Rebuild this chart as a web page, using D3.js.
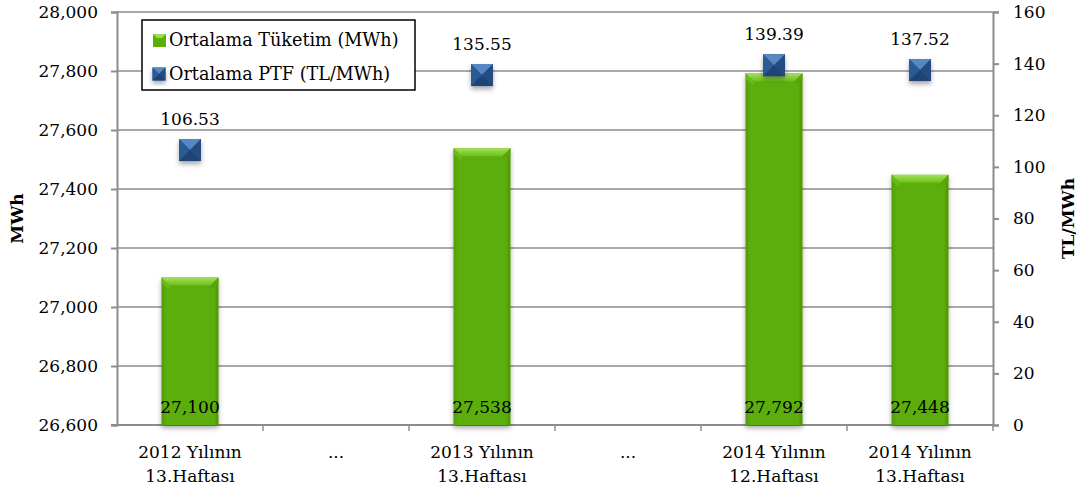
<!DOCTYPE html>
<html>
<head>
<meta charset="utf-8">
<script src="https://cdn.jsdelivr.net/npm/d3@7"></script>
<style>
  body { margin: 0; background: #fff; }
  text { font-family: "DejaVu Serif", serif; fill: #000; }
</style>
</head>
<body>
<div id="chart"></div>
<script>
// data
const categories = [
  ["2012 Yılının", "13.Haftası"],
  ["..."],
  ["2013 Yılının", "13.Haftası"],
  ["..."],
  ["2014 Yılının", "12.Haftası"],
  ["2014 Yılının", "13.Haftası"]
];
const consumption = [27100, null, 27538, null, 27792, 27448];
const ptf = [106.53, null, 135.55, null, 139.39, 137.52];
const leftTicks = [26600, 26800, 27000, 27200, 27400, 27600, 27800, 28000];
const rightTicks = [0, 20, 40, 60, 80, 100, 120, 140, 160];
const seriesNames = ["Ortalama Tüketim (MWh)", "Ortalama PTF (TL/MWh)"];

let width = 1079, height = 496;
let margin = {top: 12, right: 86, bottom: 71, left: 117};

let svg = d3.select("#chart").append("svg")
    .attr("width", width)
    .attr("height", height);

let defs = svg.append("defs");

let barGrad = defs.append("linearGradient").attr("id", "barGrad")
    .attr("x1", 0).attr("x2", 1).attr("y1", 0).attr("y2", 0);
barGrad.append("stop").attr("offset", "0%").attr("stop-color", "#4f9a06");
barGrad.append("stop").attr("offset", "8%").attr("stop-color", "#5cae08");
barGrad.append("stop").attr("offset", "92%").attr("stop-color", "#5cae08");
barGrad.append("stop").attr("offset", "100%").attr("stop-color", "#4c9405");

let bevelGrad = defs.append("linearGradient").attr("id", "bevelGrad")
    .attr("x1", 0).attr("x2", 0).attr("y1", 0).attr("y2", 1);
bevelGrad.append("stop").attr("offset", "0%").attr("stop-color", "#a4e05a");
bevelGrad.append("stop").attr("offset", "100%").attr("stop-color", "#6cbf1c");

let shadow = defs.append("filter").attr("id", "shadow")
    .attr("x", "-30%").attr("y", "-30%").attr("width", "160%").attr("height", "170%");
shadow.append("feDropShadow").attr("dx", 0).attr("dy", 3).attr("stdDeviation", 2.5)
    .attr("flood-color", "#000").attr("flood-opacity", 0.35);

let x = d3.scaleBand()
    .domain(d3.range(categories.length))
    .range([margin.left, width - margin.right]);

let yLeft = d3.scaleLinear().domain([26600, 28000]).range([height - margin.bottom, margin.top]);
let yRight = d3.scaleLinear().domain([0, 160]).range([height - margin.bottom, margin.top]);

let x0 = margin.left, x1 = width - margin.right, yBase = height - margin.bottom;

// grid lines
svg.append("g").selectAll("line")
    .data(leftTicks)
    .enter().append("line")
    .attr("x1", x0).attr("x2", x1)
    .attr("y1", d => yLeft(d)).attr("y2", d => yLeft(d))
    .attr("stroke", "#8c8c8c").attr("stroke-width", 1.5);

// left axis
let leftAxis = svg.append("g")
    .attr("transform", "translate(" + x0 + ",0)")
    .call(d3.axisLeft(yLeft).tickValues(leftTicks).tickFormat(d3.format(",")).tickSizeOuter(0).tickSize(6).tickPadding(13));
leftAxis.select(".domain").attr("stroke", "#8c8c8c").attr("stroke-width", 2);
leftAxis.selectAll(".tick line").attr("stroke", "#8c8c8c").attr("stroke-width", 2);
leftAxis.selectAll("text").style("font-family", "DejaVu Serif").style("font-size", "17px").attr("fill", "#000");

// right axis
let rightAxis = svg.append("g")
    .attr("transform", "translate(" + x1 + ",0)")
    .call(d3.axisRight(yRight).tickValues(rightTicks).tickSizeOuter(0).tickSize(6).tickPadding(14));
rightAxis.select(".domain").attr("stroke", "#8c8c8c").attr("stroke-width", 2);
rightAxis.selectAll(".tick line").attr("stroke", "#8c8c8c").attr("stroke-width", 2);
rightAxis.selectAll("text").style("font-family", "DejaVu Serif").style("font-size", "17px").attr("fill", "#000");

// bottom axis
svg.append("line")
    .attr("x1", x0 - 6).attr("x2", x1)
    .attr("y1", yBase).attr("y2", yBase)
    .attr("stroke", "#8c8c8c").attr("stroke-width", 2);
svg.append("g").selectAll("line")
    .data(d3.range(1, categories.length + 1))
    .enter().append("line")
    .attr("x1", i => i < categories.length ? x(i) : x1)
    .attr("x2", i => i < categories.length ? x(i) : x1)
    .attr("y1", yBase).attr("y2", yBase + 6)
    .attr("stroke", "#8c8c8c").attr("stroke-width", 1.5);

let catLabels = svg.append("g").selectAll("text")
    .data(categories)
    .enter().append("text")
    .attr("text-anchor", "middle")
    .style("font-size", "17px")
    .attr("transform", (d, i) => "translate(" + (x(i) + x.bandwidth() / 2) + "," + (yBase + 33) + ")");
catLabels.selectAll("tspan")
    .data(d => d)
    .enter().append("tspan")
    .attr("x", 0)
    .attr("dy", (d, j) => j === 0 ? 0 : 24)
    .text(d => d);

// bars
let barW = x.bandwidth() * 0.39;
let barData = consumption.map((v, i) => ({i: i, v: v})).filter(d => d.v != null);

let bars = svg.append("g").selectAll("g")
    .data(barData)
    .enter().append("g")
    .attr("transform", d => "translate(" + (x(d.i) + (x.bandwidth() - barW) / 2) + ",0)");

bars.append("rect")
    .attr("y", d => yLeft(d.v))
    .attr("width", barW)
    .attr("height", d => yBase - yLeft(d.v))
    .attr("fill", "url(#barGrad)")
    .attr("filter", "url(#shadow)");

// bevel on top edge
bars.append("path")
    .attr("d", d => {
        let t = yLeft(d.v), b = 8;
        return "M0," + t + "L" + barW + "," + t + "L" + (barW - b) + "," + (t + b) + "L" + b + "," + (t + b) + "Z";
    })
    .attr("fill", "url(#bevelGrad)");
bars.append("path")
    .attr("d", d => {
        let t = yLeft(d.v), b = 8;
        return "M0," + t + "L" + b + "," + (t + b) + "L" + b + "," + (t + b + 4) + "L0," + (t + 6) + "Z";
    })
    .attr("fill", "#68bb18");
bars.append("path")
    .attr("d", d => {
        let t = yLeft(d.v), b = 8;
        return "M" + barW + "," + t + "L" + (barW - b) + "," + (t + b) + "L" + (barW - b) + "," + (t + b + 4) + "L" + barW + "," + (t + 6) + "Z";
    })
    .attr("fill", "#58a60a");

bars.append("text")
    .attr("x", barW / 2)
    .attr("y", yBase - 12)
    .attr("text-anchor", "middle")
    .style("font-size", "17px")
    .text(d => d3.format(",")(d.v));

// PTF markers
let m = 22;
let ptfData = ptf.map((v, i) => ({i: i, v: v})).filter(d => d.v != null);

function marker(sel, s) {
    let h = s / 2;
    sel.append("rect").attr("x", -h).attr("y", -h).attr("width", s).attr("height", s)
        .attr("fill", "#28528c").attr("filter", "url(#shadow)");
    sel.append("path").attr("d", "M" + (-h) + "," + (-h) + "L" + h + "," + (-h) + "L0,0Z").attr("fill", "#5688c4");
    sel.append("path").attr("d", "M" + (-h) + "," + (-h) + "L0,0L" + (-h) + "," + h + "Z").attr("fill", "#2c5a96");
    sel.append("path").attr("d", "M" + h + "," + (-h) + "L0,0L" + h + "," + h + "Z").attr("fill", "#244c82");
    sel.append("path").attr("d", "M" + (-h) + "," + h + "L0,0L" + h + "," + h + "Z").attr("fill", "#1f4474");
}

let points = svg.append("g").selectAll("g")
    .data(ptfData)
    .enter().append("g")
    .attr("transform", d => "translate(" + (x(d.i) + x.bandwidth() / 2) + "," + yRight(d.v) + ")");
points.call(marker, m);
points.append("text")
    .attr("y", -25)
    .attr("text-anchor", "middle")
    .style("font-size", "17px")
    .text(d => d3.format(".2f")(d.v));

// axis titles
svg.append("text")
    .attr("transform", "translate(23," + (margin.top + (yBase - margin.top) / 2) + ")rotate(-90)")
    .attr("text-anchor", "middle")
    .style("font-size", "17px").style("font-weight", "bold")
    .text("MWh");
svg.append("text")
    .attr("transform", "translate(1074," + (margin.top + (yBase - margin.top) / 2) + ")rotate(-90)")
    .attr("text-anchor", "middle")
    .style("font-size", "17px").style("font-weight", "bold")
    .text("TL/MWh");

// legend
let legend = svg.append("g").attr("transform", "translate(142,20)");
legend.append("rect")
    .attr("width", 273).attr("height", 70)
    .attr("fill", "#fff").attr("stroke", "#000").attr("stroke-width", 1.5);

let lg = legend.selectAll("g")
    .data(seriesNames)
    .enter().append("g")
    .attr("transform", (d, i) => "translate(17," + (20 + i * 34) + ")");
lg.filter((d, i) => i === 0).each(function() {
    let g = d3.select(this);
    g.append("rect").attr("x", -6).attr("y", -6).attr("width", 13).attr("height", 13).attr("fill", "#5cae08");
    g.append("path").attr("d", "M-6,-6L7,-6L3,-2L-2,-2Z").attr("fill", "#9ede4e");
});
lg.filter((d, i) => i === 1).each(function() {
    d3.select(this).call(marker, 13);
});
lg.append("text")
    .attr("x", 10)
    .attr("dy", "0.35em")
    .style("font-size", "17.6px")
    .text(d => d);
</script>
</body>
</html>
